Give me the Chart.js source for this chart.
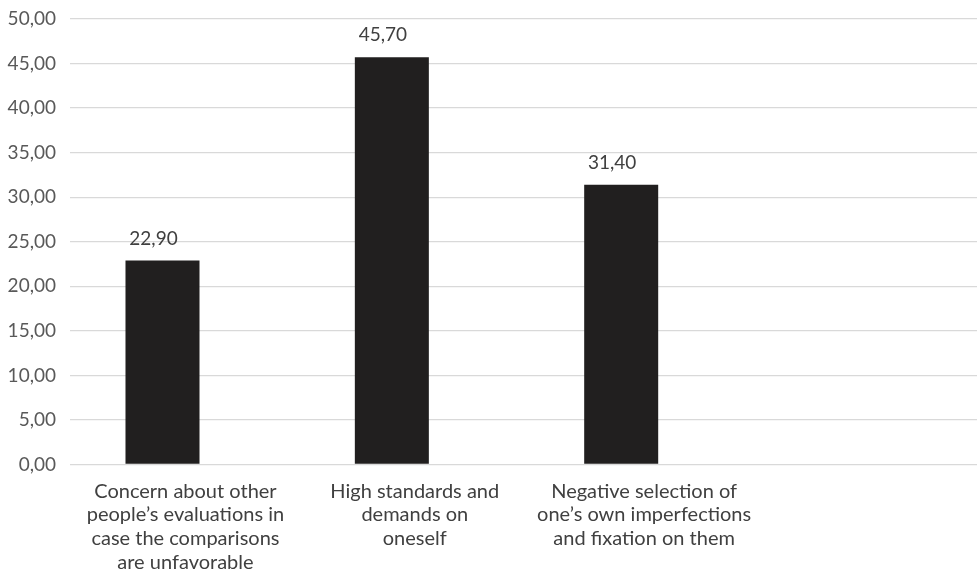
<!DOCTYPE html>
<html>
<head>
<meta charset="utf-8">
<script src="https://cdn.jsdelivr.net/npm/chart.js@4/dist/chart.umd.min.js"></script>
<style>
  html, body { margin: 0; padding: 0; background: #ffffff; }
  #wrap { width: 977px; height: 574px; }
</style>
</head>
<body>
<div id="wrap"><canvas id="c" width="977" height="574"></canvas></div>
<script>
// ---- data ----
const categories = [
  ["Concern about other", "people’s evaluations in", "case the comparisons", "are unfavorable"],
  ["High standards and", "demands on", "oneself"],
  ["Negative selection of", "one’s own imperfections", "and fixation on them"]
];
const values = [22.90, 45.70, 31.40];
const yTicks = [0, 5, 10, 15, 20, 25, 30, 35, 40, 45, 50];

const fmt = v => v.toFixed(2).replace('.', ',');
const FONT = "Lato";
const LABEL_SHIFT = 0.1; // category labels sit slightly right of the bars

const dataLabels = {
  id: 'dataLabels',
  afterDatasetsDraw(chart) {
    const ctx = chart.ctx;
    const meta = chart.getDatasetMeta(0);
    ctx.save();
    ctx.font = "19px " + FONT;
    ctx.fillStyle = "#404040";
    ctx.textAlign = "center";
    ctx.textBaseline = "middle";
    meta.data.forEach((bar, i) => {
      ctx.fillText(fmt(values[i]), bar.x - 9, bar.y - 22);
    });
    ctx.restore();
  }
};

new Chart(document.getElementById('c'), {
  type: 'bar',
  data: {
    datasets: [{
      data: values.map((v, i) => ({ x: i, y: v })),
      backgroundColor: '#211f1f',
      borderWidth: 0,
      categoryPercentage: 1,
      barPercentage: 0.3227
    }]
  },
  options: {
    responsive: false,
    animation: false,
    events: [],
    layout: { padding: { top: 19, left: 0, right: 0, bottom: 0 } },
    plugins: { legend: { display: false }, tooltip: { enabled: false } },
    scales: {
      x: {
        type: 'linear',
        offset: false,
        min: -0.4033,
        max: 3.5514,
        grid: { display: false, offset: false },
        border: { display: false },
        afterBuildTicks: s => { s.ticks = categories.map((_, i) => ({ value: i + LABEL_SHIFT })); },
        afterFit: s => { s.height = 109.5; s.paddingLeft = 0; s.paddingRight = 0; },
        ticks: {
          autoSkip: false,
          maxRotation: 0,
          minRotation: 0,
          padding: 7,
          color: '#404040',
          font: { family: FONT, size: 20, lineHeight: 1.18 },
          callback: (v) => categories[Math.round(v - LABEL_SHIFT)] || ''
        }
      },
      y: {
        min: 0,
        max: 50,
        afterBuildTicks: s => { s.ticks = yTicks.map(v => ({ value: v })); },
        afterFit: s => { s.width = 70; s.paddingTop = 0; s.paddingBottom = 0; },
        grid: { color: '#d9d9d9', lineWidth: 1.3, drawTicks: false },
        border: { display: false },
        ticks: {
          padding: 14,
          color: '#595959',
          font: { family: FONT, size: 19 },
          callback: v => fmt(v)
        }
      }
    }
  },
  plugins: [dataLabels]
});
</script>
</body>
</html>
